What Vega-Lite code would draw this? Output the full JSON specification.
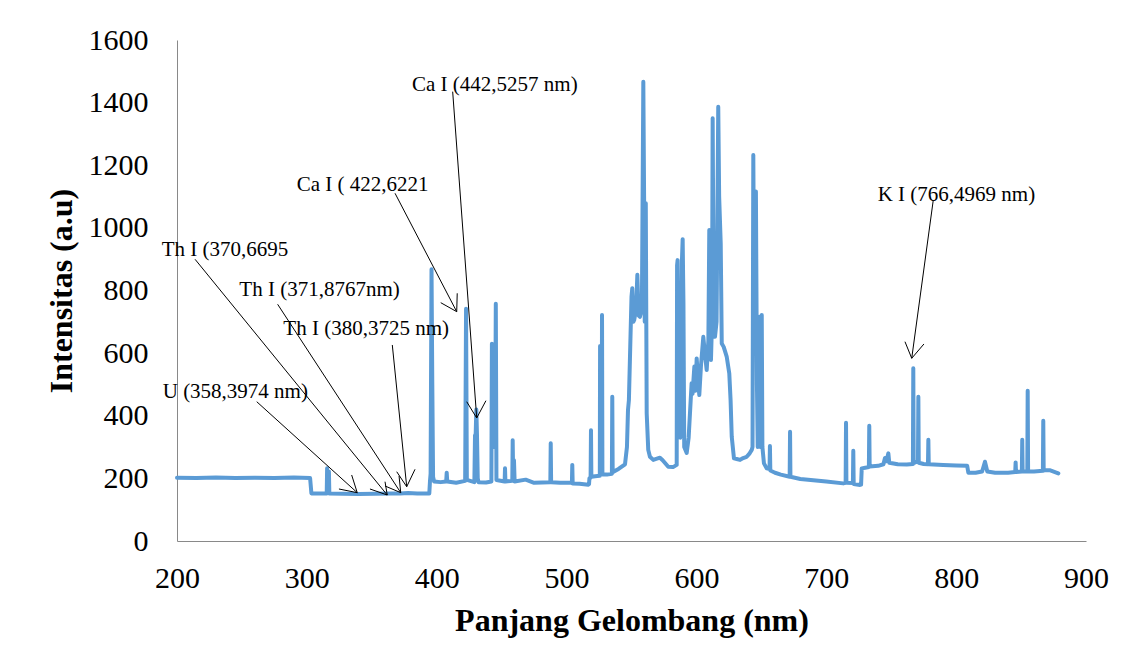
{
  "$schema": "https://vega.github.io/schema/vega-lite/v6.json",
  "width": 909,
  "height": 501,
  "autosize": {"type": "none"},
  "padding": {"left": 177, "top": 40, "right": 47, "bottom": 130},
  "background": "white",
  "config": {
    "view": {"stroke": null},
    "font": "Liberation Serif",
    "axis": {
      "domainColor": "#898989",
      "domainWidth": 1,
      "ticks": false,
      "tickSize": 0,
      "grid": false,
      "labelFont": "Liberation Serif",
      "labelFontSize": 30,
      "labelColor": "#000000",
      "titleFont": "Liberation Serif",
      "titleFontSize": 32,
      "titleFontWeight": "bold",
      "titleColor": "#000000"
    },
    "axisX": {"labelPadding": 22, "titlePadding": 12, "labelFlush": false},
    "axisY": {"labelPadding": 29, "titlePadding": 10}
  },
  "datasets": {
    "spectrum": [
      {"nm": 200, "intensity": 202}, {"nm": 215, "intensity": 201}, {"nm": 230, "intensity": 203}, {"nm": 245, "intensity": 201},
      {"nm": 260, "intensity": 202}, {"nm": 275, "intensity": 201}, {"nm": 290, "intensity": 203}, {"nm": 302.5, "intensity": 201},
      {"nm": 303.5, "intensity": 152}, {"nm": 315.3, "intensity": 152}, {"nm": 315.6, "intensity": 232}, {"nm": 315.9, "intensity": 155},
      {"nm": 316.7, "intensity": 155}, {"nm": 317.0, "intensity": 222}, {"nm": 317.3, "intensity": 152}, {"nm": 328, "intensity": 151},
      {"nm": 340, "intensity": 150}, {"nm": 352, "intensity": 151}, {"nm": 365, "intensity": 152}, {"nm": 372, "intensity": 152},
      {"nm": 378, "intensity": 153}, {"nm": 385, "intensity": 152}, {"nm": 394.3, "intensity": 152}, {"nm": 394.8, "intensity": 190},
      {"nm": 395.3, "intensity": 215}, {"nm": 396.0, "intensity": 868}, {"nm": 396.6, "intensity": 500}, {"nm": 397.2, "intensity": 205},
      {"nm": 398, "intensity": 190}, {"nm": 403, "intensity": 188}, {"nm": 407.3, "intensity": 190}, {"nm": 407.7, "intensity": 218},
      {"nm": 408.1, "intensity": 190}, {"nm": 415, "intensity": 186}, {"nm": 421.9, "intensity": 192}, {"nm": 422.6, "intensity": 742},
      {"nm": 423.2, "intensity": 195}, {"nm": 429, "intensity": 188}, {"nm": 429.5, "intensity": 338}, {"nm": 430.0, "intensity": 338},
      {"nm": 430.5, "intensity": 420}, {"nm": 431.0, "intensity": 340}, {"nm": 431.6, "intensity": 200}, {"nm": 432.2, "intensity": 188},
      {"nm": 438, "intensity": 187}, {"nm": 442.1, "intensity": 190}, {"nm": 442.5, "intensity": 630}, {"nm": 443.0, "intensity": 300},
      {"nm": 445.0, "intensity": 300}, {"nm": 445.5, "intensity": 758}, {"nm": 446.0, "intensity": 195}, {"nm": 452.3, "intensity": 190},
      {"nm": 452.6, "intensity": 232}, {"nm": 452.9, "intensity": 190}, {"nm": 458.2, "intensity": 192}, {"nm": 458.5, "intensity": 322},
      {"nm": 458.9, "intensity": 200}, {"nm": 459.5, "intensity": 258}, {"nm": 460, "intensity": 190}, {"nm": 468.5, "intensity": 196},
      {"nm": 475, "intensity": 186}, {"nm": 487.5, "intensity": 188}, {"nm": 487.8, "intensity": 312}, {"nm": 488.1, "intensity": 188},
      {"nm": 495, "intensity": 186}, {"nm": 504.1, "intensity": 186}, {"nm": 504.4, "intensity": 243}, {"nm": 504.7, "intensity": 184},
      {"nm": 510, "intensity": 183}, {"nm": 516.8, "intensity": 180}, {"nm": 517.3, "intensity": 182}, {"nm": 517.6, "intensity": 200},
      {"nm": 518.5, "intensity": 202}, {"nm": 518.8, "intensity": 354}, {"nm": 519.1, "intensity": 205}, {"nm": 522, "intensity": 207},
      {"nm": 525.6, "intensity": 208}, {"nm": 525.8, "intensity": 623}, {"nm": 526.1, "intensity": 250}, {"nm": 527.0, "intensity": 250},
      {"nm": 527.3, "intensity": 722}, {"nm": 527.6, "intensity": 212}, {"nm": 531, "intensity": 212}, {"nm": 534.9, "intensity": 215},
      {"nm": 535.2, "intensity": 461}, {"nm": 535.5, "intensity": 220}, {"nm": 540, "intensity": 230}, {"nm": 545, "intensity": 245},
      {"nm": 546.5, "intensity": 300}, {"nm": 547.3, "intensity": 418}, {"nm": 548, "intensity": 450}, {"nm": 550, "intensity": 780},
      {"nm": 550.6, "intensity": 807}, {"nm": 551.4, "intensity": 700}, {"nm": 552.1, "intensity": 706}, {"nm": 553.5, "intensity": 740},
      {"nm": 554.5, "intensity": 850}, {"nm": 555.5, "intensity": 720}, {"nm": 556.5, "intensity": 716}, {"nm": 558, "intensity": 740},
      {"nm": 559.1, "intensity": 1467}, {"nm": 559.7, "intensity": 1100}, {"nm": 560.2, "intensity": 700}, {"nm": 561.0, "intensity": 1079},
      {"nm": 561.7, "intensity": 408}, {"nm": 562.9, "intensity": 291}, {"nm": 564.2, "intensity": 269}, {"nm": 566.8, "intensity": 259},
      {"nm": 569, "intensity": 262}, {"nm": 571.9, "intensity": 266}, {"nm": 574, "intensity": 258}, {"nm": 578.3, "intensity": 237},
      {"nm": 582, "intensity": 236}, {"nm": 584.8, "intensity": 243}, {"nm": 585.1, "intensity": 880}, {"nm": 585.5, "intensity": 897},
      {"nm": 586.0, "intensity": 400}, {"nm": 587.5, "intensity": 330}, {"nm": 588.8, "intensity": 890}, {"nm": 589.4, "intensity": 964},
      {"nm": 590.0, "intensity": 760}, {"nm": 590.6, "intensity": 300}, {"nm": 592.5, "intensity": 281}, {"nm": 594, "intensity": 330},
      {"nm": 596.3, "intensity": 504}, {"nm": 597, "intensity": 470}, {"nm": 598.4, "intensity": 557}, {"nm": 599.2, "intensity": 480},
      {"nm": 600.2, "intensity": 583}, {"nm": 601.2, "intensity": 520}, {"nm": 602.2, "intensity": 466}, {"nm": 603.5, "intensity": 560},
      {"nm": 605.3, "intensity": 652}, {"nm": 606.5, "intensity": 600}, {"nm": 607.9, "intensity": 546}, {"nm": 609.2, "intensity": 640},
      {"nm": 609.9, "intensity": 993}, {"nm": 610.5, "intensity": 700}, {"nm": 611.2, "intensity": 578}, {"nm": 612.0, "intensity": 700},
      {"nm": 612.5, "intensity": 1350}, {"nm": 613.2, "intensity": 800}, {"nm": 614.3, "intensity": 652}, {"nm": 615.5, "intensity": 700},
      {"nm": 616.8, "intensity": 1387}, {"nm": 617.5, "intensity": 1100}, {"nm": 618.7, "intensity": 951}, {"nm": 619.5, "intensity": 631},
      {"nm": 621, "intensity": 620}, {"nm": 623.3, "intensity": 589}, {"nm": 625.3, "intensity": 535}, {"nm": 626.3, "intensity": 450},
      {"nm": 627.2, "intensity": 333}, {"nm": 628.9, "intensity": 264}, {"nm": 631, "intensity": 262}, {"nm": 633.6, "intensity": 259},
      {"nm": 636, "intensity": 265}, {"nm": 638.7, "intensity": 269}, {"nm": 641, "intensity": 280}, {"nm": 642.6, "intensity": 291},
      {"nm": 643.2, "intensity": 300}, {"nm": 643.8, "intensity": 1233}, {"nm": 644.4, "intensity": 800}, {"nm": 645.2, "intensity": 700},
      {"nm": 645.8, "intensity": 1116}, {"nm": 646.6, "intensity": 500}, {"nm": 647.2, "intensity": 300}, {"nm": 648.4, "intensity": 716},
      {"nm": 649.3, "intensity": 300}, {"nm": 650, "intensity": 400}, {"nm": 650.3, "intensity": 722}, {"nm": 650.8, "intensity": 300},
      {"nm": 652, "intensity": 248}, {"nm": 654.1, "intensity": 232}, {"nm": 656.3, "intensity": 230}, {"nm": 656.6, "intensity": 303},
      {"nm": 656.9, "intensity": 225}, {"nm": 660.5, "intensity": 218}, {"nm": 665, "intensity": 212}, {"nm": 671.8, "intensity": 205},
      {"nm": 672.1, "intensity": 349}, {"nm": 672.4, "intensity": 205}, {"nm": 680, "intensity": 198}, {"nm": 690, "intensity": 194},
      {"nm": 700, "intensity": 190}, {"nm": 713, "intensity": 184}, {"nm": 714.9, "intensity": 186}, {"nm": 715.2, "intensity": 378},
      {"nm": 715.5, "intensity": 186}, {"nm": 720.5, "intensity": 185}, {"nm": 720.8, "intensity": 288}, {"nm": 721.1, "intensity": 182},
      {"nm": 726.0, "intensity": 179}, {"nm": 726.8, "intensity": 180}, {"nm": 727.3, "intensity": 232}, {"nm": 730, "intensity": 234},
      {"nm": 732.8, "intensity": 236}, {"nm": 733.1, "intensity": 368}, {"nm": 733.4, "intensity": 238}, {"nm": 740, "intensity": 240},
      {"nm": 744, "intensity": 245}, {"nm": 745.2, "intensity": 265}, {"nm": 746.3, "intensity": 255}, {"nm": 747.8, "intensity": 280},
      {"nm": 748.5, "intensity": 250}, {"nm": 755, "intensity": 245}, {"nm": 762, "intensity": 244}, {"nm": 766.7, "intensity": 246},
      {"nm": 767.0, "intensity": 552}, {"nm": 767.3, "intensity": 250}, {"nm": 768, "intensity": 250}, {"nm": 770.6, "intensity": 255},
      {"nm": 770.9, "intensity": 461}, {"nm": 771.2, "intensity": 250}, {"nm": 775, "intensity": 246}, {"nm": 778.3, "intensity": 245},
      {"nm": 778.6, "intensity": 323}, {"nm": 778.9, "intensity": 245}, {"nm": 790, "intensity": 243}, {"nm": 800, "intensity": 241},
      {"nm": 808.5, "intensity": 240}, {"nm": 809.4, "intensity": 218}, {"nm": 815, "intensity": 218}, {"nm": 820, "intensity": 222},
      {"nm": 822.2, "intensity": 253}, {"nm": 824, "intensity": 222}, {"nm": 830, "intensity": 218}, {"nm": 840, "intensity": 218},
      {"nm": 845.5, "intensity": 220}, {"nm": 845.8, "intensity": 251}, {"nm": 846.1, "intensity": 220}, {"nm": 850.6, "intensity": 222},
      {"nm": 850.9, "intensity": 323}, {"nm": 851.2, "intensity": 222}, {"nm": 854.8, "intensity": 222}, {"nm": 855.1, "intensity": 480},
      {"nm": 855.4, "intensity": 222}, {"nm": 860, "intensity": 222}, {"nm": 866.8, "intensity": 224}, {"nm": 867.1, "intensity": 384},
      {"nm": 867.4, "intensity": 226}, {"nm": 872, "intensity": 226}, {"nm": 878.7, "intensity": 216}
    ],
    "arrows": [
      {"x": 412.3, "y": 1435.0, "x2": 430.8, "y2": 392.8},
      {"x": 423.1, "y": 444.9, "x2": 430.8, "y2": 392.8},
      {"x": 437.9, "y": 448.1, "x2": 430.8, "y2": 392.8},
      {"x": 367.9, "y": 1110.5, "x2": 415.4, "y2": 732.4},
      {"x": 403.1, "y": 761.1, "x2": 415.4, "y2": 732.4},
      {"x": 415.8, "y": 791.1, "x2": 415.4, "y2": 732.4},
      {"x": 213.9, "y": 899.7, "x2": 361.9, "y2": 146.9},
      {"x": 348.6, "y": 166.1, "x2": 361.9, "y2": 146.9},
      {"x": 360.2, "y": 189.4, "x2": 361.9, "y2": 146.9},
      {"x": 277.5, "y": 756.0, "x2": 372.3, "y2": 154.3},
      {"x": 360.2, "y": 175.7, "x2": 372.3, "y2": 154.3},
      {"x": 371.0, "y": 207.6, "x2": 372.3, "y2": 154.3},
      {"x": 365.8, "y": 626.0, "x2": 376.9, "y2": 173.4},
      {"x": 369.2, "y": 221.3, "x2": 376.9, "y2": 173.4},
      {"x": 383.3, "y": 229.0, "x2": 376.9, "y2": 173.4},
      {"x": 261.4, "y": 444.9, "x2": 338.8, "y2": 154.3},
      {"x": 324.7, "y": 166.1, "x2": 338.8, "y2": 154.3},
      {"x": 334.5, "y": 210.8, "x2": 338.8, "y2": 154.3},
      {"x": 782.4, "y": 1089.1, "x2": 765.8, "y2": 583.5},
      {"x": 760.6, "y": 636.5, "x2": 765.8, "y2": 583.5},
      {"x": 775.2, "y": 629.2, "x2": 765.8, "y2": 583.5}
    ],
    "labels": [
      {"nm": 381.0, "intensity": 1456, "label": "Ca I (442,5257 nm)"},
      {"nm": 292.2, "intensity": 1137, "label": "Ca I ( 422,6221"},
      {"nm": 188.2, "intensity": 929, "label": "Th I (370,6695"},
      {"nm": 248.0, "intensity": 802, "label": "Th I (371,8767nm)"},
      {"nm": 281.9, "intensity": 676, "label": "Th I (380,3725 nm)"},
      {"nm": 189.0, "intensity": 475, "label": "U (358,3974 nm)"},
      {"nm": 739.6, "intensity": 1105, "label": "K I (766,4969 nm)"}
    ]
  },
  "layer": [
    {
      "data": {"name": "spectrum"},
      "mark": {"type": "line", "color": "#5B9BD5", "strokeWidth": 4, "strokeJoin": "round", "strokeCap": "round"},
      "encoding": {
        "x": {
          "field": "nm", "type": "quantitative",
          "scale": {"domain": [200, 900], "nice": false, "zero": false},
          "title": "Panjang Gelombang (nm)",
          "axis": {"values": [200, 300, 400, 500, 600, 700, 800, 900], "format": "d", "labelFont": "Liberation Serif", "titleFont": "Liberation Serif"}
        },
        "y": {
          "field": "intensity", "type": "quantitative",
          "scale": {"domain": [0, 1600], "nice": false},
          "title": "Intensitas (a.u)",
          "axis": {"values": [0, 200, 400, 600, 800, 1000, 1200, 1400, 1600], "format": "d", "labelFont": "Liberation Serif", "titleFont": "Liberation Serif"}
        }
      }
    },
    {
      "data": {"name": "arrows"},
      "mark": {"type": "rule", "color": "#000000", "strokeWidth": 1},
      "encoding": {
        "x": {"field": "x", "type": "quantitative", "title": "Panjang Gelombang (nm)"},
        "y": {"field": "y", "type": "quantitative", "title": "Intensitas (a.u)"},
        "x2": {"field": "x2"},
        "y2": {"field": "y2"}
      }
    },
    {
      "data": {"name": "labels"},
      "mark": {"type": "text", "align": "left", "baseline": "middle", "font": "Liberation Serif", "fontSize": 21, "color": "#000000"},
      "encoding": {
        "x": {"field": "nm", "type": "quantitative", "title": "Panjang Gelombang (nm)"},
        "y": {"field": "intensity", "type": "quantitative", "title": "Intensitas (a.u)"},
        "text": {"field": "label"}
      }
    }
  ]
}
